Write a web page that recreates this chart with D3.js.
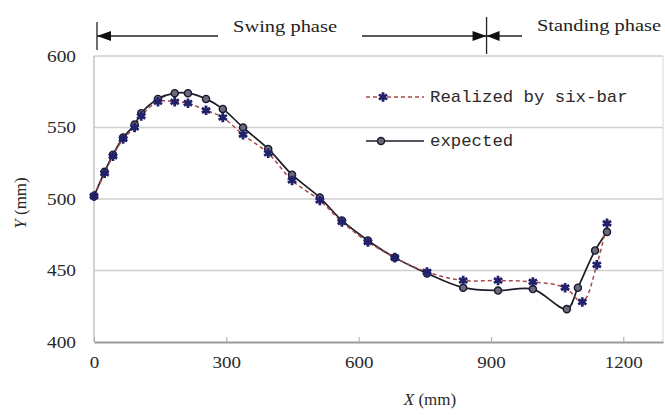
<!DOCTYPE html>
<html>
<head>
<meta charset="utf-8">
<script src="https://cdn.jsdelivr.net/npm/d3@7"></script>
<style>
  body { margin: 0; background: #fff; }
  svg { display: block; }
</style>
</head>
<body>
<svg id="chart" width="665" height="415"></svg>
<script>
// data
var expected_x = [0, 24, 43, 66, 92, 107, 145, 183, 213, 254, 292, 338, 395, 449, 512, 562, 621, 682, 755, 837, 916, 995, 1072, 1097, 1136, 1163];
var expected_y = [502, 519, 531, 543, 552, 560, 570, 574, 574, 570, 563, 550, 535, 517, 501, 485, 471, 459, 448, 438, 436, 437, 423, 438, 464, 477];
var realized_x = [0, 24, 43, 66, 92, 107, 145, 183, 213, 254, 292, 338, 395, 449, 512, 562, 621, 682, 755, 837, 916, 995, 1068, 1107, 1140, 1163];
var realized_y = [502, 518, 530, 542, 550, 558, 568, 568, 567, 562, 557, 545, 532, 513, 499, 484, 470, 459, 449, 443, 443, 442, 438, 428, 454, 483];
var x_ticks = [0, 300, 600, 900, 1200];
var y_ticks = [400, 450, 500, 550, 600];
var phase_bounds = [0, 890];
var phase_labels = ["Swing phase", "Standing phase"];
var legend_labels = ["Realized by six-bar", "expected"];

var svg = d3.select("#chart");
var serif = "'Times New Roman', 'Liberation Serif', Times, serif";
var mono = "'Courier New', 'Liberation Mono', monospace";

var x = d3.scaleLinear().domain([0, 1290]).range([94, 663]);
var y = d3.scaleLinear().domain([400, 600]).range([342, 56]);

// grid lines
svg.append("g").selectAll("line")
  .data(y_ticks.slice(1))
  .enter().append("line")
  .attr("x1", x(0)).attr("x2", x(1290))
  .attr("y1", function(d){ return y(d); })
  .attr("y2", function(d){ return y(d); })
  .style("stroke", "#cfcfcf").style("stroke-width", 1.5);

// frame
svg.append("line").attr("x1", x(0)).attr("x2", x(0)).attr("y1", y(600)).attr("y2", y(400))
  .style("stroke", "#c4c4c4").style("stroke-width", 1.5);
svg.append("line").attr("x1", x(1290)).attr("x2", x(1290)).attr("y1", y(600)).attr("y2", y(400))
  .style("stroke", "#d8d8d8").style("stroke-width", 1);

// x axis
var x_axis = svg.append("g").attr("transform", "translate(0," + y(400) + ")")
  .call(d3.axisBottom(x).tickValues(x_ticks).tickFormat(d3.format("d"))
        .tickSizeInner(-5).tickSizeOuter(0).tickPadding(14));
x_axis.select(".domain").style("stroke", "#9a9a9a").style("stroke-width", 2);
x_axis.selectAll(".tick line").style("stroke", "#aaa");
x_axis.selectAll("text").style("font-family", serif).style("font-size", "17px").style("fill", "#2a2a2a")
  .attr("textLength", function(d){ return String(d).length * 9.5; })
  .attr("lengthAdjust", "spacingAndGlyphs");

// y axis
var y_axis = svg.append("g").attr("transform", "translate(" + x(0) + ",0)")
  .call(d3.axisLeft(y).tickValues(y_ticks).tickSize(0).tickPadding(18));
y_axis.select(".domain").remove();
y_axis.selectAll("text").style("font-family", serif).style("font-size", "17px").style("fill", "#2a2a2a")
  .attr("textLength", 29).attr("lengthAdjust", "spacingAndGlyphs");

// axis titles
var xt = svg.append("text").attr("x", 430).attr("y", 405).attr("text-anchor", "middle")
  .style("font-family", serif).style("font-size", "17px").style("fill", "#2a2a2a");
xt.append("tspan").style("font-style", "italic").text("X");
xt.append("tspan").text(" (mm)");

var yt = svg.append("text").attr("transform", "translate(26,203) rotate(-90)").attr("text-anchor", "middle")
  .style("font-family", serif).style("font-size", "17px").style("fill", "#2a2a2a");
yt.append("tspan").style("font-style", "italic").text("Y");
yt.append("tspan").text(" (mm)");

// phase annotation on top
var ay = 36;
var ann = svg.append("g").style("stroke", "#222").style("stroke-width", 1.3);
ann.append("line").attr("x1", x(phase_bounds[0]) + 3).attr("x2", x(phase_bounds[0]) + 3).attr("y1", 22).attr("y2", 50);
ann.append("line").attr("x1", x(phase_bounds[1])).attr("x2", x(phase_bounds[1])).attr("y1", 17).attr("y2", 54);
ann.append("line").attr("x1", x(phase_bounds[0]) + 3).attr("x2", 218).attr("y1", ay).attr("y2", ay);
ann.append("line").attr("x1", 362).attr("x2", x(phase_bounds[1])).attr("y1", ay).attr("y2", ay);
ann.append("line").attr("x1", x(phase_bounds[1])).attr("x2", 522).attr("y1", ay).attr("y2", ay);

var heads = [
  [[x(0) + 3, ay], [x(0) + 17, ay - 5], [x(0) + 17, ay + 5]],
  [[x(890), ay], [x(890) - 14, ay - 5], [x(890) - 14, ay + 5]],
  [[x(890), ay], [x(890) + 13, ay - 5], [x(890) + 13, ay + 5]]
];
svg.append("g").selectAll("path").data(heads).enter().append("path")
  .attr("d", function(d){ return "M" + d.join("L") + "Z"; })
  .style("fill", "#111");

svg.append("text").attr("x", 285).attr("y", 32).attr("text-anchor", "middle")
  .style("font-family", serif).style("font-size", "17px").style("fill", "#222")
  .attr("textLength", 104).attr("lengthAdjust", "spacingAndGlyphs")
  .text(phase_labels[0]);
svg.append("text").attr("x", 599).attr("y", 31).attr("text-anchor", "middle")
  .style("font-family", serif).style("font-size", "17px").style("fill", "#222")
  .attr("textLength", 124).attr("lengthAdjust", "spacingAndGlyphs")
  .text(phase_labels[1]);

// series
var exp_pts = expected_x.map(function(d, i){ return [d, expected_y[i]]; });
var real_pts = realized_x.map(function(d, i){ return [d, realized_y[i]]; });

var line = d3.line()
  .x(function(d){ return x(d[0]); })
  .y(function(d){ return y(d[1]); })
  .curve(d3.curveCatmullRom.alpha(0.5));

svg.append("path").attr("d", line(exp_pts))
  .style("fill", "none").style("stroke", "#1e1e2a").style("stroke-width", 1.7);
svg.append("path").attr("d", line(real_pts))
  .style("fill", "none").style("stroke", "#a84a4a").style("stroke-width", 1.5)
  .style("stroke-dasharray", "4,3");

var star = d3.symbol().type(d3.symbolAsterisk).size(64);
var circle = d3.symbol().type(d3.symbolCircle).size(40);

svg.append("g").selectAll("path").data(exp_pts).enter().append("path")
  .attr("transform", function(d){ return "translate(" + x(d[0]) + "," + y(d[1]) + ")"; })
  .attr("d", circle)
  .style("fill", "#6a6a7c").style("stroke", "#1a1a30").style("stroke-width", 1.4);

svg.append("g").selectAll("path").data(real_pts).enter().append("path")
  .attr("transform", function(d){ return "translate(" + x(d[0]) + "," + y(d[1]) + ")"; })
  .attr("d", star)
  .style("fill", "none").style("stroke", "#22226a").style("stroke-width", 2.8);

// legend
var lg = svg.append("g");
lg.append("line").attr("x1", 366).attr("x2", 424).attr("y1", 97).attr("y2", 97)
  .style("stroke", "#a84a4a").style("stroke-width", 1.5).style("stroke-dasharray", "4,3");
lg.append("path").attr("transform", "translate(383,97)").attr("d", star)
  .style("fill", "none").style("stroke", "#22226a").style("stroke-width", 2.8);
lg.append("line").attr("x1", 366).attr("x2", 424).attr("y1", 141).attr("y2", 141)
  .style("stroke", "#1e1e2a").style("stroke-width", 1.7);
lg.append("path").attr("transform", "translate(381,141)").attr("d", circle)
  .style("fill", "#6a6a7c").style("stroke", "#1a1a30").style("stroke-width", 1.4);

lg.selectAll("text").data(legend_labels).enter().append("text")
  .attr("x", 430)
  .attr("y", function(d, i){ return 102 + i * 44; })
  .style("font-family", mono).style("font-size", "17px").style("fill", "#2a2a2a")
  .attr("textLength", function(d){ return d.length * 10.4; })
  .attr("lengthAdjust", "spacingAndGlyphs")
  .text(function(d){ return d; });
</script>
</body>
</html>
